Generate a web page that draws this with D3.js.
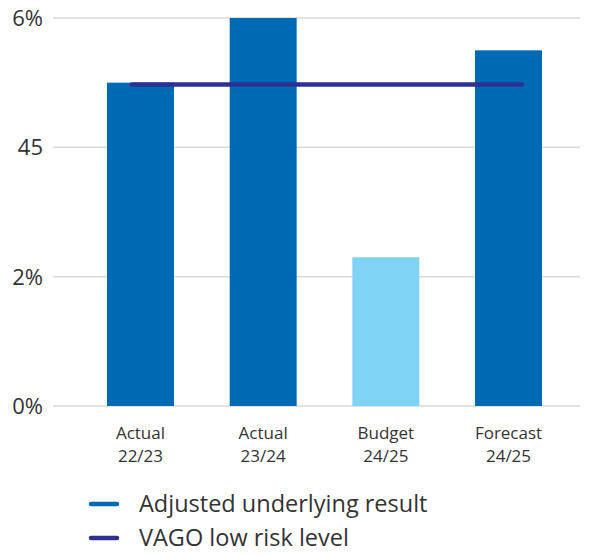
<!DOCTYPE html>
<html>
<head>
<meta charset="utf-8">
<script src="https://cdn.jsdelivr.net/npm/d3@7"></script>
<style>
  body { margin: 0; background: #fff; }
  text { font-family: "Open Sans", Lato, sans-serif; fill: #333; }
</style>
</head>
<body>
<div id="chart"></div>
<script>
// data
var categories = ["Actual|22/23", "Actual|23/24", "Budget|24/25", "Forecast|24/25"];
var results = [5.0, 6.0, 2.3, 5.5];
var kinds = ["actual", "actual", "budget", "actual"];
var riskLevel = 4.97;
var tickValues = [0, 2, 4, 6];
var tickLabels = ["0%", "2%", "45", "6%"];
var legendItems = ["Adjusted underlying result", "VAGO low risk level"];

var width = 595, height = 556;
var barColor = { actual: "#0069b4", budget: "#7fd3f4" };
var lineColor = "#2e3192";

var svg = d3.select("#chart").append("svg")
  .attr("width", width)
  .attr("height", height);

var x = d3.scaleBand()
  .domain(categories)
  .range([53, 580])
  .paddingInner(0.454)
  .paddingOuter(0.375)
  .align(0.587);

var y = d3.scaleLinear()
  .domain([0, 6])
  .range([406, 18]);

// gridlines + y labels
var grid = svg.append("g");
grid.selectAll("line")
  .data(tickValues)
  .enter().append("line")
    .attr("x1", 53)
    .attr("x2", 580)
    .attr("y1", function(d) { return y(d); })
    .attr("y2", function(d) { return y(d); })
    .attr("stroke", "#d9d9d9")
    .attr("stroke-width", 1.5);

grid.selectAll("text")
  .data(tickValues)
  .enter().append("text")
    .attr("x", 43)
    .attr("y", function(d) { return y(d); })
    .attr("dy", "0.36em")
    .attr("text-anchor", "end")
    .attr("font-size", 22)
    .text(function(d, i) { return tickLabels[i]; });

// bars
svg.append("g").selectAll("rect")
  .data(results)
  .enter().append("rect")
    .attr("x", function(d, i) { return x(categories[i]); })
    .attr("width", x.bandwidth())
    .attr("y", function(d) { return y(d); })
    .attr("height", function(d) { return y(0) - y(d); })
    .attr("fill", function(d, i) { return barColor[kinds[i]]; });

// risk level line
svg.append("line")
  .attr("x1", x(categories[0]) + x.bandwidth() * 0.37)
  .attr("x2", x(categories[3]) + x.bandwidth() * 0.7)
  .attr("y1", y(riskLevel))
  .attr("y2", y(riskLevel))
  .attr("stroke", lineColor)
  .attr("stroke-width", 4.5)
  .attr("stroke-linecap", "round");

// x labels
var xl = svg.append("g").selectAll("text")
  .data(categories)
  .enter().append("text")
    .attr("x", function(d) { return x(d) + x.bandwidth() / 2; })
    .attr("y", 439)
    .attr("text-anchor", "middle")
    .attr("font-size", 17);
xl.append("tspan")
  .attr("x", function(d) { return x(d) + x.bandwidth() / 2; })
  .text(function(d) { return d.split("|")[0]; });
xl.append("tspan")
  .attr("x", function(d) { return x(d) + x.bandwidth() / 2; })
  .attr("dy", 23)
  .text(function(d) { return d.split("|")[1]; });

// legend
var legend = svg.append("g").selectAll("g")
  .data(legendItems)
  .enter().append("g")
    .attr("transform", function(d, i) { return "translate(0," + (504 + i * 34) + ")"; });
legend.append("line")
  .attr("x1", 91)
  .attr("x2", 117)
  .attr("stroke", function(d, i) { return i ? lineColor : barColor.actual; })
  .attr("stroke-width", 4.5)
  .attr("stroke-linecap", "round");
legend.append("text")
  .attr("x", 139)
  .attr("dy", "0.36em")
  .attr("font-size", 23.5)
  .text(function(d) { return d; });
</script>
</body>
</html>
